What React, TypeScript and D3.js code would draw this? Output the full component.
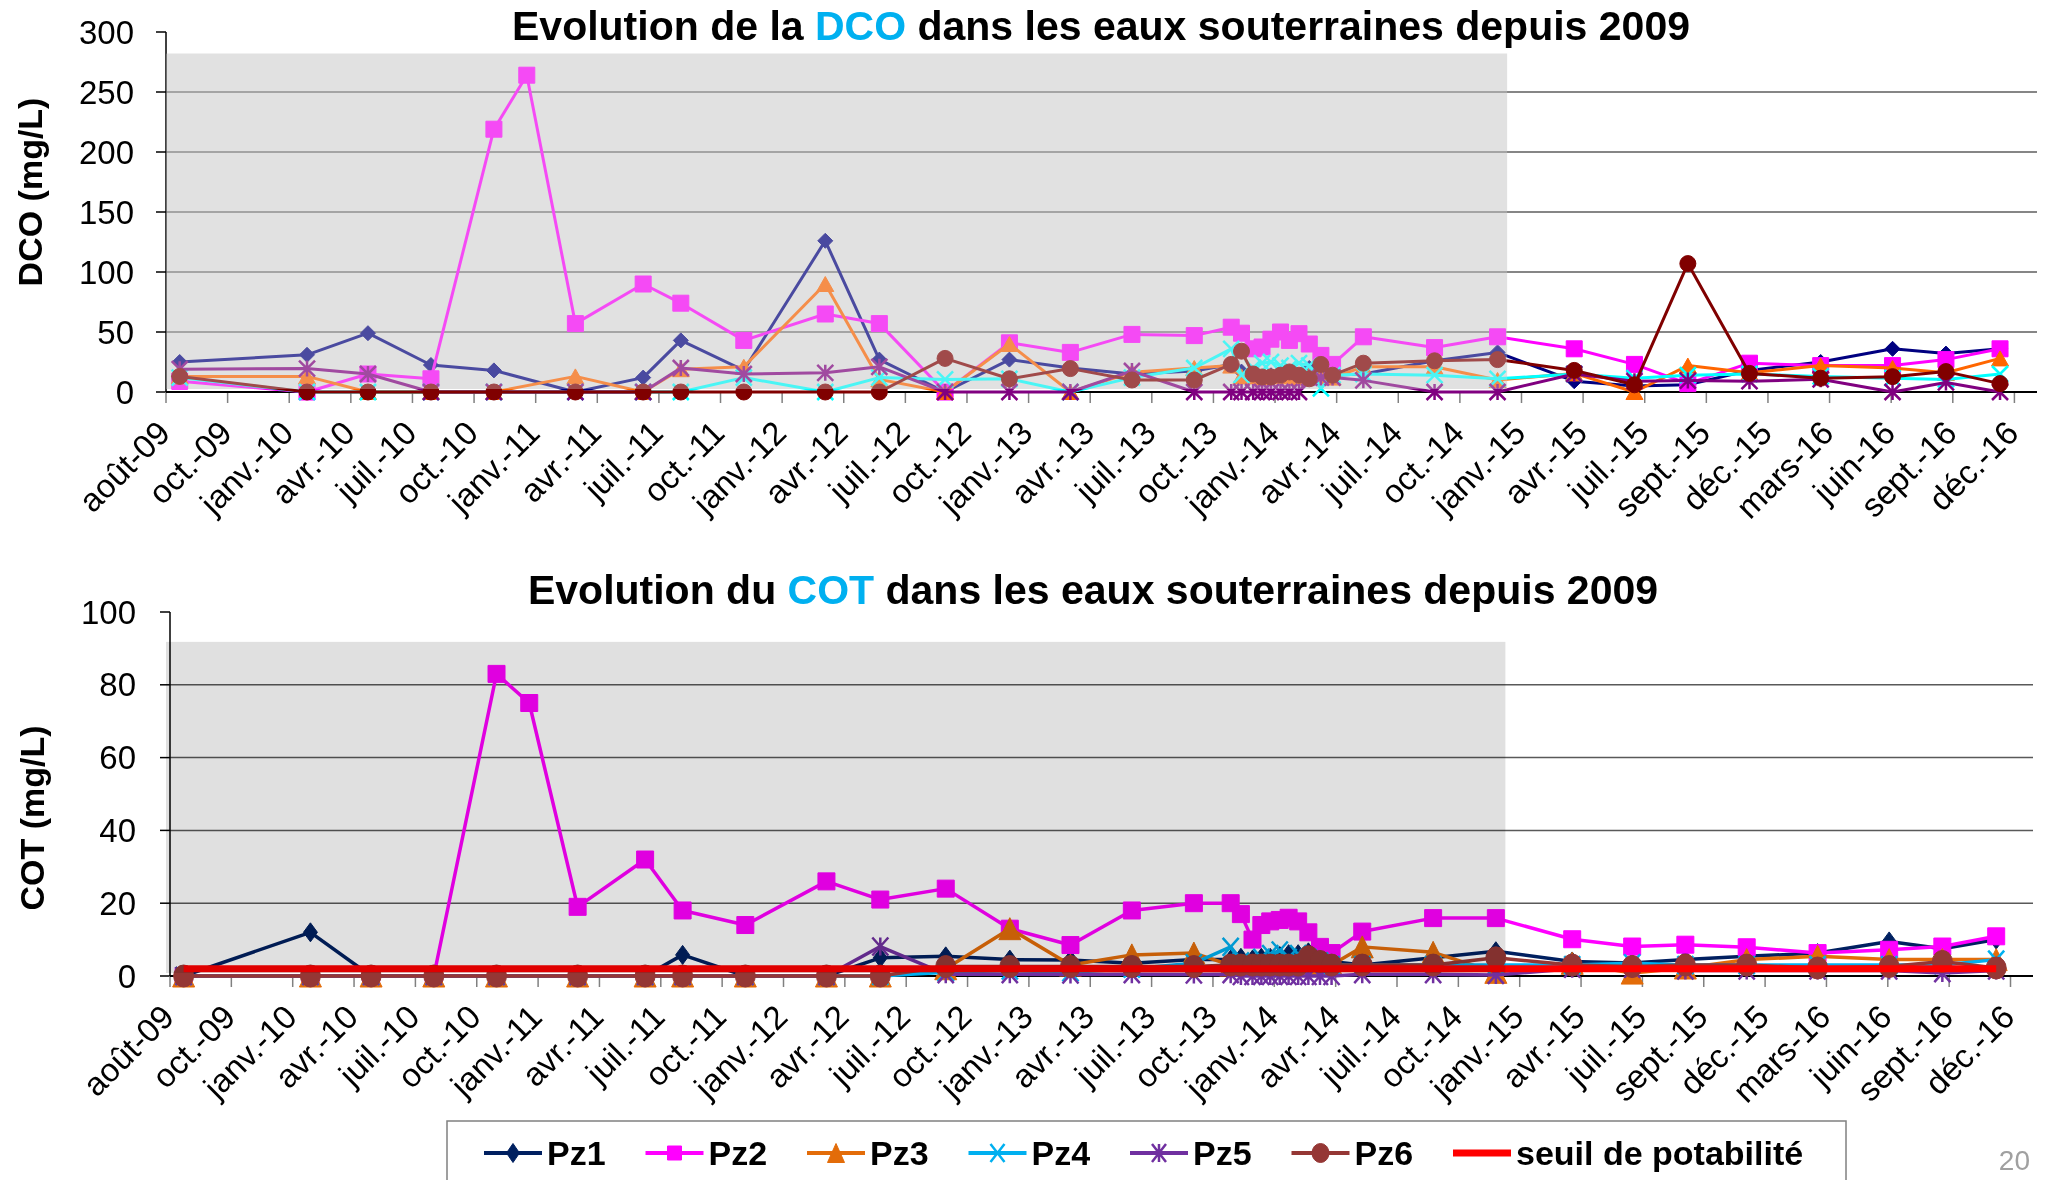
import * as d3 from 'd3';

const FONT = "'Liberation Sans', Arial, Helvetica, sans-serif";

// dates de prélèvement (communes aux deux graphiques)
const sampleDates = [
  '2009-08-21', '2010-02-23', '2010-05-23', '2010-08-23', '2010-11-23', '2011-01-10', '2011-03-22',
  '2011-06-29', '2011-08-23', '2011-11-23', '2012-03-21', '2012-06-08', '2012-09-12', '2012-12-15',
  '2013-03-14', '2013-06-12', '2013-09-11', '2013-11-04', '2013-11-19', '2013-12-06', '2013-12-19',
  '2014-01-01', '2014-01-15', '2014-01-28', '2014-02-11', '2014-02-26', '2014-03-15', '2014-04-01',
  '2014-05-16', '2014-08-28', '2014-11-28', '2015-03-20', '2015-06-16', '2015-09-02', '2015-12-01',
  '2016-03-14', '2016-06-27', '2016-09-13', '2016-12-01',
];

// DCO (mg/L)
const dcoPz1 = [25, 31, 49, 22.5, 18, null, 0, 12, 43, 18, 126, 27, 0, 27, 20, 15, 17.5, 23, 17, 13, 12, 14, 15, 14, 13, 20, 14, 14, 15, 26, 33, 9, 5, 6, 18, 25, 36, 32, 36];
const dcoPz2 = [9, 0, 15, 11, 219, 264, 57, 90, 74, 43, 65, 57, 0, 41, 33, 48, 47, 54, 49, 36, 37.5, 44, 50, 43, 48.6, 40, 30.5, 23, 46, 37, 46, 36, 23, 7, 24, 22, 22, 27, 36];
const dcoPz3 = [13, 13, 0, 0, 0, null, 13, 0, 19, 21, 90, 10.5, 0, 40, 0, 16.5, 20, 22, 13, 13, 12, 13, 14, 13, 12, 14, 13, 12, 21, 21, 10, 15.5, 0, 22, 16, 22, 20, 16, 28];
const dcoPz4 = [12, 0, 0, 0, 0, null, 0, 0, 0, 12, 0, 12, 10.5, 11, 0, 12, 20, 36, 14, 20, 24, 25, 22, 20, 24, 22, 3, 14, 15, 14, 11, 15, 11.5, 14, 15, 13, 11.5, 10.5, 15];
const dcoPz5 = [19, 19.5, 15, 0, 0, null, 0, 0, 20, 15, 16, 21, 0, 0, 0, 17.5, 0, 0, 0, 0, 0, 0, 0, 0, 0, 12, 12, 12, 9.7, 0, 0, 15, 9, 9.5, 9, 10.6, 0, 8, 0];
const dcoPz6 = [13, 0, 0, 0, 0, null, 0, 0, 0, 0, 0, 0, 28, 11, 19.5, 10, 10, 23, 34, 15, 12.5, 12.5, 14, 16.7, 14, 11, 23, 14, 24, 26, 27, 18, 6, 107, 15.5, 11.5, 12.8, 17, 7];

// COT (mg/L)
const cotPz1 = [0, 12, 0, 0, 0, null, 0, 0, 5.8, 0, 0, 5, 5.4, 4.5, 4.4, 3.5, 4.5, 4.5, 5, 4.5, 5, 5, 5.5, 6, 6, 6.5, 5.5, 4, 3, 5, 6.8, 4, 3.6, 4.5, 5.4, 6.3, 9.5, 7.5, 10];
const cotPz2 = [0, 0, 0, 0, 83, 75, 19, 32, 18, 14, 26, 21, 24, 13, 8.5, 18, 20, 20, 17, 10, 14, 15, 15.4, 16, 15, 12, 8, 6.3, 12.2, 15.9, 15.9, 10.1, 8.1, 8.6, 7.9, 6.3, 7.2, 8.1, 10.9];
const cotPz3 = [0, 0, 0, 0, 0, null, 0, 0, 0, 0, 0, 0, 2, 13, 3, 5.8, 6.3, 3, 3, 3, 3, 3, 3, 3, 3, 3, 3, 3, 8, 6.5, 1, 3.5, 0.8, 2.2, 4.5, 5.4, 4.5, 4.5, 4.5];
const cotPz4 = [0, 0, 0, 0, 0, null, 0, 0, 0, 0, 0, 0, 1, 1.5, 1, 2, 3.5, 8, 4, 3, 5, 6, 7, 5, 6, 5, 4, 3, 3, 3, 3, 3, 3.5, 3, 3, 3, 3, 3, 4.5];
const cotPz5 = [0, 0, 0, 0, 0, null, 0, 0, 0, 0, 0, 8.1, 0.5, 0.5, 0.4, 0.5, 0.4, 0.5, 0, 0, 0, 0, 0, 0, 0, 0, 0, 0, 0.5, 0.5, 0.3, 2, 2, 1.5, 1.5, 1.5, 1.5, 0.8, 1.5];
const cotPz6 = [0, 0, 0, 0, 0, null, 0, 0, 0, 0, 0, 0, 2.6, 2.6, 2.6, 2.6, 2.6, 3, 3, 3, 3, 3, 3, 3, 3, 5.3, 4, 3, 3, 3, 5, 3, 2.6, 3, 3, 2.2, 2.6, 4, 2.2];
const seuilPotabilite = 2;

const seriesNames = ['Pz1', 'Pz2', 'Pz3', 'Pz4', 'Pz5', 'Pz6'];
type Shape = 'diamond' | 'square' | 'triangle' | 'times' | 'star' | 'circle';
const seriesShapes: Shape[] = ['diamond', 'square', 'triangle', 'times', 'star', 'circle'];
const dcoColors = ['#000080', '#ff00ff', '#ff6600', '#00ffff', '#800080', '#800000'];
const cotColors = ['#002060', '#ff00ff', '#e36c09', '#00b0f0', '#7030a0', '#953735'];

const xTickLabels = [
  'août-09', 'oct.-09', 'janv.-10', 'avr.-10', 'juil.-10', 'oct.-10', 'janv.-11', 'avr.-11', 'juil.-11',
  'oct.-11', 'janv.-12', 'avr.-12', 'juil.-12', 'oct.-12', 'janv.-13', 'avr.-13', 'juil.-13', 'oct.-13',
  'janv.-14', 'avr.-14', 'juil.-14', 'oct.-14', 'janv.-15', 'avr.-15', 'juil.-15', 'sept.-15', 'déc.-15',
  'mars-16', 'juin-16', 'sept.-16', 'déc.-16',
];

const parse = d3.timeParse('%Y-%m-%d');
const dates = sampleDates.map((s) => parse(s) as Date);
const AXIS_START = parse('2009-08-01') as Date;
const AXIS_END = parse('2017-01-24') as Date;
const SHADE_END = parse('2014-12-12') as Date;
const TICK_DAYS = 90;

type MarkerSize = Record<Shape, [number, number]>;

function markerPath(shape: Shape, w: number, h: number) {
  const a = w / 2;
  const b = h / 2;
  switch (shape) {
    case 'diamond':
      return `M0,${-b}L${a},0L0,${b}L${-a},0Z`;
    case 'square':
      return `M${-a},${-b}H${a}V${b}H${-a}Z`;
    case 'triangle':
      return `M0,${-b}L${a},${b}L${-a},${b}Z`;
    case 'circle':
      return `M${-a},0A${a},${b} 0 1,0 ${a},0A${a},${b} 0 1,0 ${-a},0Z`;
    case 'times':
      return `M${-a},${-b}L${a},${b}M${a},${-b}L${-a},${b}`;
    case 'star':
      return `M${-a},${-b}L${a},${b}M${a},${-b}L${-a},${b}M0,${-b}V${b}`;
  }
}

const isStroke = (s: Shape) => s === 'times' || s === 'star';

interface PanelSpec {
  title: [string, string, string];
  yLabel: string;
  left: number;
  right: number;
  top: number;
  bottom: number;
  max: number;
  step: number;
  shadeTop: number;
  titleX: number;
  titleY: number;
  yLabelX: number;
  yLabelY: number;
  tickLabelX: number;
  series: (number | null)[][];
  colors: string[];
  lineWidth: number;
  markers: MarkerSize;
  gridColor: string;
  gridWidth: number;
  overlay: 'alpha' | 'multiply';
  seuil?: number;
}

const dcoSpec: PanelSpec = {
  title: ['Evolution de la ', 'DCO', ' dans les eaux souterraines depuis 2009'],
  yLabel: 'DCO (mg/L)',
  left: 166, right: 2037, top: 32, bottom: 392,
  max: 300, step: 50, shadeTop: 282,
  titleX: 1101, titleY: 40, yLabelX: 42, yLabelY: 192, tickLabelX: 134,
  series: [dcoPz1, dcoPz2, dcoPz3, dcoPz4, dcoPz5, dcoPz6],
  colors: dcoColors, lineWidth: 3,
  markers: { diamond: [15, 15], square: [16, 16], triangle: [17, 15], times: [16, 16], star: [16, 16], circle: [16, 16] },
  gridColor: '#868686', gridWidth: 2, overlay: 'alpha',
};

const cotSpec: PanelSpec = {
  title: ['Evolution du ', 'COT', ' dans les eaux souterraines depuis 2009'],
  yLabel: 'COT (mg/L)',
  left: 170, right: 2033, top: 612, bottom: 976,
  max: 100, step: 20, shadeTop: 91.8,
  titleX: 1093, titleY: 604, yLabelX: 44, yLabelY: 818, tickLabelX: 136,
  series: [cotPz1, cotPz2, cotPz3, cotPz4, cotPz5, cotPz6],
  colors: cotColors, lineWidth: 3.5,
  markers: { diamond: [14, 19], square: [17, 17], triangle: [22, 22], times: [16, 18], star: [16, 18], circle: [20, 22] },
  gridColor: '#595959', gridWidth: 1.5, overlay: 'multiply',
  seuil: seuilPotabilite,
};

function Panel({ spec }: { spec: PanelSpec }) {
  const x = d3.scaleTime().domain([AXIS_START, AXIS_END]).range([spec.left, spec.right]);
  const y = d3.scaleLinear().domain([0, spec.max]).range([spec.bottom, spec.top]);
  const line = d3
    .line<[Date, number]>()
    .x((d) => x(d[0]))
    .y((d) => y(d[1]));
  const yTicks = d3.range(0, spec.max + 1, spec.step);
  const xTicks = xTickLabels.map((_, i) => d3.timeDay.offset(AXIS_START, TICK_DAYS * i));
  const shadeX0 = x(AXIS_START);
  const shadeX1 = x(SHADE_END);
  const shadeY0 = y(spec.shadeTop);
  const shadeY1 = y(0) - 3;

  return (
    <g>
      {spec.overlay === 'alpha' && (
        <rect x={shadeX0} y={shadeY0} width={shadeX1 - shadeX0} height={shadeY1 - shadeY0} fill="#e1e1e1" />
      )}
      {yTicks
        .filter((t) => t > 0 && t < spec.max)
        .map((t) => (
          <line key={t} x1={spec.left} x2={spec.right} y1={y(t)} y2={y(t)} stroke={spec.gridColor} strokeWidth={spec.gridWidth} />
        ))}
      {/* axes */}
      <line x1={spec.left} x2={spec.left} y1={spec.top} y2={spec.bottom} stroke="#000" strokeWidth={1.5} />
      {yTicks.map((t) => (
        <line key={t} x1={spec.left - 10} x2={spec.left} y1={y(t)} y2={y(t)} stroke="#000" strokeWidth={1.5} />
      ))}
      {xTicks.map((d, i) => (
        <line key={i} x1={x(d)} x2={x(d)} y1={spec.bottom} y2={spec.bottom + 11} stroke="#808080" strokeWidth={1.5} />
      ))}
      <line x1={spec.left} x2={spec.right} y1={spec.bottom} y2={spec.bottom} stroke="#000" strokeWidth={2} />

      {/* séries */}
      {spec.series.map((vals, i) => {
        const pts = dates
          .map((d, j) => [d, vals[j]] as [Date, number | null])
          .filter((p) => p[1] !== null) as [Date, number][];
        const shape = seriesShapes[i];
        const [mw, mh] = spec.markers[shape];
        const color = spec.colors[i];
        return (
          <g key={seriesNames[i]}>
            <path d={line(pts) ?? ''} fill="none" stroke={color} strokeWidth={spec.lineWidth} strokeLinejoin="round" />
            {pts.map((p, k) => (
              <path
                key={k}
                transform={`translate(${x(p[0])},${y(p[1])})`}
                d={markerPath(shape, mw, mh)}
                fill={isStroke(shape) ? 'none' : color}
                stroke={color}
                strokeWidth={isStroke(shape) ? 2.5 : 1}
              />
            ))}
          </g>
        );
      })}
      {spec.seuil !== undefined && (
        <line
          x1={x(dates[0])}
          x2={x(dates[dates.length - 1])}
          y1={y(spec.seuil)}
          y2={y(spec.seuil)}
          stroke="#ff0000"
          strokeWidth={7}
        />
      )}

      {spec.overlay === 'alpha' ? (
        <rect x={shadeX0} y={shadeY0} width={shadeX1 - shadeX0} height={shadeY1 - shadeY0} fill="#e1e1e1" opacity={0.33} />
      ) : (
        <rect
          x={shadeX0 - 4}
          y={shadeY0}
          width={shadeX1 - shadeX0 + 4}
          height={shadeY1 - shadeY0}
          fill="#e0e0e0"
          style={{ mixBlendMode: 'multiply' }}
        />
      )}

      {/* libellés */}
      {yTicks.map((t) => (
        <text key={t} x={spec.tickLabelX} y={y(t) + 11.5} textAnchor="end" fontSize={33} fill="#000">
          {t}
        </text>
      ))}
      {xTicks.map((d, i) => (
        <text
          key={i}
          transform={`translate(${x(d) + 6},${spec.bottom + 43}) rotate(-45)`}
          textAnchor="end"
          fontSize={33}
          fill="#000"
        >
          {xTickLabels[i]}
        </text>
      ))}
      <text
        transform={`translate(${spec.yLabelX},${spec.yLabelY}) rotate(-90)`}
        textAnchor="middle"
        fontSize={34}
        fontWeight="bold"
        fill="#000"
      >
        {spec.yLabel}
      </text>
      <text x={spec.titleX} y={spec.titleY} textAnchor="middle" fontSize={41} fontWeight="bold" fill="#000">
        <tspan>{spec.title[0]}</tspan>
        <tspan fill="#00b0f0">{spec.title[1]}</tspan>
        <tspan>{spec.title[2]}</tspan>
      </text>
    </g>
  );
}

const LEGEND_X0 = 484;
const LEGEND_STEP = 161.5;
const LEGEND_Y = 1153;
const legendMarkers: MarkerSize = { diamond: [13, 19], square: [14, 14], triangle: [17, 19], times: [14, 18], star: [14, 18], circle: [17, 19] };

function Legend() {
  const items = [
    ...seriesNames.map((n, i) => ({ name: n, color: cotColors[i], shape: seriesShapes[i] as Shape | null })),
    { name: 'seuil de potabilité', color: '#ff0000', shape: null as Shape | null },
  ];
  return (
    <g>
      <rect x={447} y={1121} width={1399} height={90} fill="#fff" stroke="#808080" strokeWidth={1.5} />
      {items.map((it, i) => {
        const lx = LEGEND_X0 + LEGEND_STEP * i;
        return (
          <g key={it.name}>
            <line x1={lx} x2={lx + 58} y1={LEGEND_Y} y2={LEGEND_Y} stroke={it.color} strokeWidth={it.shape ? 4 : 7} />
            {it.shape && (
              <path
                transform={`translate(${lx + 29},${LEGEND_Y})`}
                d={markerPath(it.shape, legendMarkers[it.shape][0], legendMarkers[it.shape][1])}
                fill={isStroke(it.shape) ? 'none' : it.color}
                stroke={it.color}
                strokeWidth={isStroke(it.shape) ? 2.5 : 1}
              />
            )}
            <text x={lx + 63} y={LEGEND_Y + 12} fontSize={34} fontWeight="bold" fill="#000">
              {it.name}
            </text>
          </g>
        );
      })}
    </g>
  );
}

export default function App() {
  return (
    <svg
      width={2047}
      height={1180}
      viewBox="0 0 2047 1180"
      fontFamily={FONT}
      style={{ position: 'absolute', left: 0, top: 0, background: '#fff' }}
    >
      <rect width={2047} height={1180} fill="#fff" />
      <Panel spec={dcoSpec} />
      <Panel spec={cotSpec} />
      <Legend />
      <text x={2030} y={1170} textAnchor="end" fontSize={28} fill="#a0a0a0">
        20
      </text>
    </svg>
  );
}
